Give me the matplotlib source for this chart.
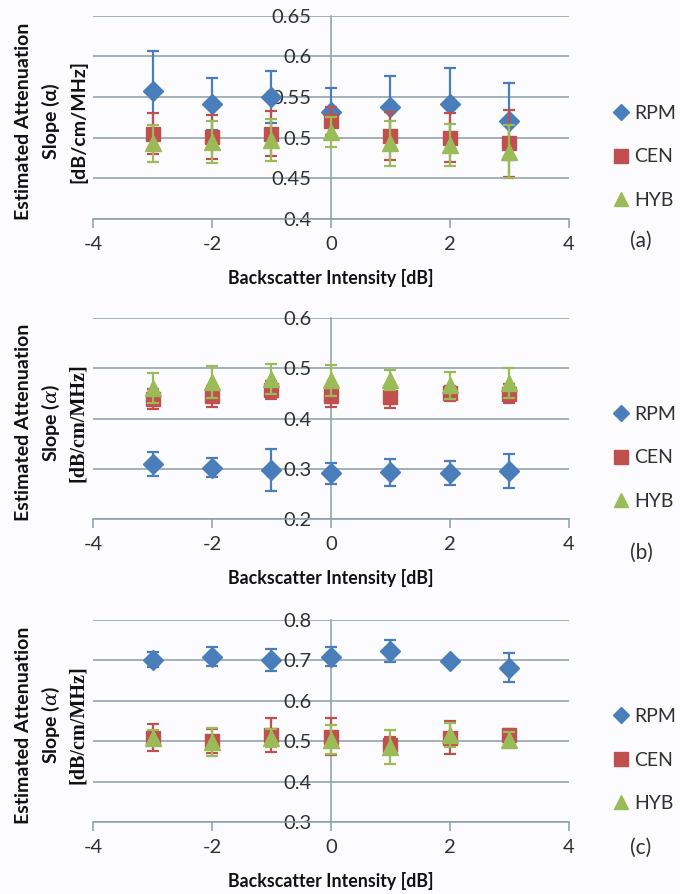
import numpy as np
import matplotlib
matplotlib.use("Agg")
import matplotlib.pyplot as plt
from matplotlib.lines import Line2D
from matplotlib.ticker import FuncFormatter

# === Data
x = [-3, -2, -1, 0, 1, 2, 3]

# (a)
rpm_a = [0.557, 0.542, 0.550, 0.532, 0.538, 0.541, 0.520]
rpm_a_err = [0.049, 0.032, 0.032, 0.029, 0.038, 0.045, 0.047]
cen_a = [0.505, 0.501, 0.505, 0.520, 0.502, 0.500, 0.493]
cen_a_err = [0.025, 0.027, 0.028, 0.018, 0.029, 0.030, 0.041]
hyb_a = [0.493, 0.495, 0.497, 0.507, 0.493, 0.491, 0.483]
hyb_a_err = [0.023, 0.026, 0.026, 0.018, 0.028, 0.026, 0.033]

# (b)
rpm_b = [0.309, 0.302, 0.297, 0.291, 0.293, 0.292, 0.296]
rpm_b_err = [0.024, 0.019, 0.042, 0.021, 0.027, 0.024, 0.034]
cen_b = [0.438, 0.444, 0.456, 0.445, 0.443, 0.450, 0.449]
cen_b_err = [0.020, 0.021, 0.018, 0.022, 0.022, 0.015, 0.019]
hyb_b = [0.460, 0.473, 0.479, 0.476, 0.476, 0.466, 0.471]
hyb_b_err = [0.030, 0.032, 0.030, 0.031, 0.020, 0.027, 0.030]

# (c)
rpm_c = [0.702, 0.709, 0.701, 0.709, 0.723, 0.699, 0.682]
rpm_c_err = [0.019, 0.024, 0.028, 0.024, 0.028, 0.005, 0.036]
cen_c = [0.509, 0.501, 0.515, 0.511, 0.490, 0.509, 0.515]
cen_c_err = [0.033, 0.030, 0.042, 0.046, 0.020, 0.040, 0.015]
hyb_c = [0.507, 0.498, 0.507, 0.504, 0.486, 0.515, 0.503]
hyb_c_err = [0.020, 0.034, 0.022, 0.035, 0.042, 0.030, 0.020]

panels = [
    ("(a)", (rpm_a, rpm_a_err), (cen_a, cen_a_err), (hyb_a, hyb_a_err), (0.4, 0.65, 0.05), False),
    ("(b)", (rpm_b, rpm_b_err), (cen_b, cen_b_err), (hyb_b, hyb_b_err), (0.2, 0.6, 0.1), True),
    ("(c)", (rpm_c, rpm_c_err), (cen_c, cen_c_err), (hyb_c, hyb_c_err), (0.3, 0.8, 0.1), True),
]

# === Style
plt.rcParams['font.family'] = ['Lato', 'DejaVu Sans']
plt.rcParams['mathtext.fontset'] = 'dejavuserif'
plt.rcParams['axes.unicode_minus'] = False
blue, red, green = '#4a7ebb', '#c0504d', '#9bbb59'
grid_c = '#8d9ca6'
text_c = '#303030'

W, H = 680, 894
fig = plt.figure(figsize=(W / 100, H / 100), dpi=100, facecolor='#fcfcfe')

# axes boxes in pixels: (top, bottom)
boxes = [(15.7, 219), (318, 519), (620, 822)]
legend_y = [157, 458, 760]
label_y = [241, 553, 848]
left_px, right_px = 93, 569

for (name, rpm, cen, hyb, yr, serif_unit), (top, bot), ly, py in zip(panels, boxes, legend_y, label_y):
    ax = fig.add_axes([left_px / W, 1 - bot / H, (right_px - left_px) / W, (bot - top) / H])
    ax.set_facecolor('none')
    ymin, ymax, step = yr
    ax.set_xlim(-4, 4)
    ax.set_ylim(ymin, ymax)
    yt = np.arange(ymin, ymax + step / 2, step)
    ax.set_yticks(yt)
    ax.yaxis.set_major_formatter(FuncFormatter(lambda v, p: '%g' % round(v, 3)))
    ax.set_xticks([-4, -2, 0, 2, 4])
    ax.grid(axis='y', color=grid_c, linewidth=1.1)
    ax.set_axisbelow(True)

    for s in ['top', 'right']:
        ax.spines[s].set_visible(False)
    ax.spines['left'].set_position(('data', 0))
    ax.spines['left'].set_color(grid_c)
    ax.spines['left'].set_linewidth(1.1)
    ax.spines['bottom'].set_color(grid_c)
    ax.spines['bottom'].set_linewidth(1.1)
    ax.tick_params(axis='y', length=0, pad=14, labelsize=14.5, labelcolor=text_c)
    ax.tick_params(axis='x', length=6.5, width=1.1, color=grid_c, direction='out',
                   pad=6, labelsize=14.5, labelcolor=text_c)
    ax.set_xlabel('Backscatter Intensity [dB]', fontsize=12.8, fontweight='bold',
                  color='#111111', labelpad=11)

    ax.errorbar(x, rpm[0], yerr=rpm[1], fmt='D', color=blue, ms=10, capsize=4,
                elinewidth=1.6, capthick=1.6, zorder=3)
    ax.errorbar(x, cen[0], yerr=cen[1], fmt='s', color=red, ms=10.5, capsize=4,
                elinewidth=1.6, capthick=1.6, zorder=4)
    ax.errorbar(x, hyb[0], yerr=hyb[1], fmt='^', color=green, ms=11.5, capsize=4,
                elinewidth=1.6, capthick=1.6, zorder=5)

    # legend
    handles = [Line2D([], [], marker='D', color=blue, ls='none', ms=8),
               Line2D([], [], marker='s', color=red, ls='none', ms=10),
               Line2D([], [], marker='^', color=green, ls='none', ms=10)]
    ax.legend(handles, ['RPM', 'CEN', 'HYB'], loc='center left',
              bbox_to_anchor=(596 / W, 1 - ly / H), bbox_transform=fig.transFigure,
              frameon=False, fontsize=14, handlelength=0.8, handletextpad=0.25,
              labelspacing=1.35, labelcolor=text_c)
    fig.text(641 / W, 1 - py / H, name, fontsize=15, color=text_c, ha='center', va='center')

    # y label, three lines
    cy = 1 - ((top + bot) / 2 + 4) / H
    fig.text(24 / W, cy, 'Estimated Attenuation', rotation=90, fontsize=14,
             fontweight='bold', ha='center', va='center', color='#111111')
    if serif_unit:
        fig.text(51 / W, cy, r'Slope ($\alpha$)', rotation=90, fontsize=14,
                 fontweight='bold', ha='center', va='center', color='#111111')
        fig.text(78 / W, cy, '[dB/cm/MHz]', rotation=90, fontsize=14.5,
                 fontweight='bold', family='Liberation Serif', ha='center', va='center',
                 color='#111111')
    else:
        fig.text(51 / W, cy, 'Slope (α)', rotation=90, fontsize=14,
                 fontweight='bold', ha='center', va='center', color='#111111')
        fig.text(78 / W, cy, '[dB/cm/MHz]', rotation=90, fontsize=14,
                 fontweight='bold', ha='center', va='center', color='#111111')

fig.savefig('out.png', dpi=100, facecolor=fig.get_facecolor())
plt.close(fig)
